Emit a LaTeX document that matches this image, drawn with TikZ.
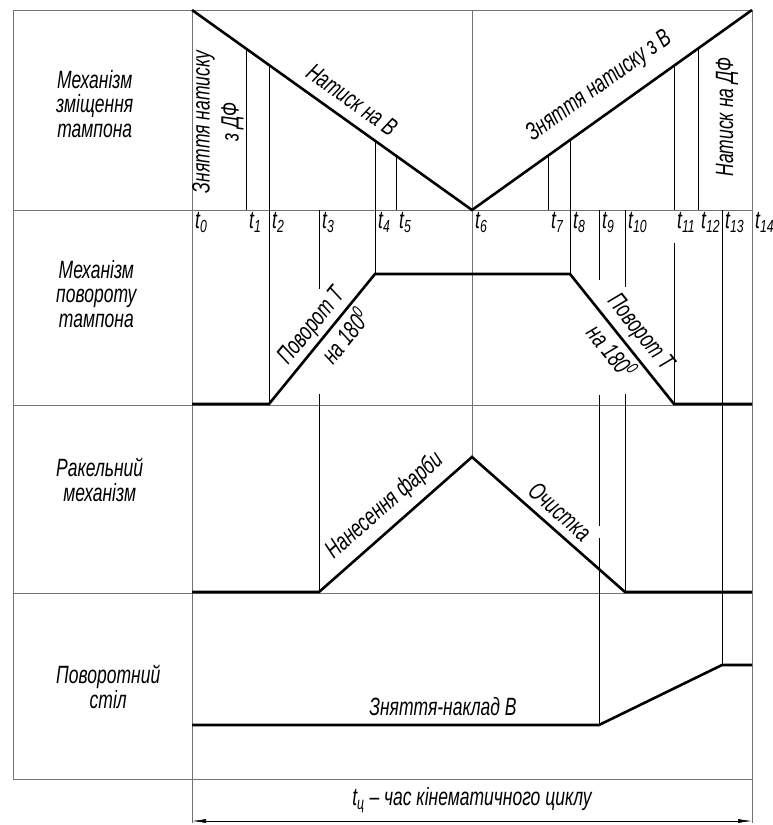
\documentclass[tikz,border=0pt]{standalone}
\usepackage{fontspec}
\newfontfamily\gost{Liberation Sans}[FakeStretch=0.7]
\usetikzlibrary{arrows.meta, positioning, calc}

\begin{document}
\begin{tikzpicture}[
  x=1pt, y=-1pt,
  every node/.style={font=\gost\itshape\fontsize{25}{24.5}\selectfont, inner sep=2pt},
  frame/.style={draw=black!55, line width=0.9pt},
  tl/.style={draw=black, line width=0.55pt},
  law/.style={draw=black, line width=2.6pt},
  tlab/.style={anchor=north west, inner sep=1pt, xshift=2pt},
  rowlab/.style={anchor=west, align=center, inner sep=0pt},
  vlab/.style={rotate=90, align=center, font=\gost\itshape\fontsize{25}{29}\selectfont},
  dim/.style={{Latex[length=14pt,width=4pt]}-{Latex[length=14pt,width=4pt]}, line width=0.55pt},
]
\useasboundingbox (0,0) rectangle (773,825);

% table frame
\draw[frame] (13,10) rectangle (752,779);
\foreach \y in {210,405,593} \draw[frame] (13,\y) -- (752,\y);
\draw[frame] (192,10) -- (192,823);
\draw[frame] (752,779) -- (752,823);
\draw[frame] (472,10) -- (472,457);

% row titles
\node[rowlab] (rpad)   at (56,104) {Механізм\\зміщення\\тампона};
\node[rowlab] (rturn)  at (56,294) {Механізм\\повороту\\тампона};
\node[rowlab] (rrakel) at (56,480) {Ракельний\\механізм};
\node[rowlab] (rtable) at (56,687) {Поворотний\\стіл};

% time marks
\foreach \i/\x in {0/192,1/246,2/269,3/319,4/375,5/396,6/472,7/548,8/570,9/599,10/625,11/674,12/698,13/722,14/752}{
  \coordinate (t\i) at (\x,210);
  \node[tlab] (lab\i) at (\x,211) {t\textsubscript{\i}};
}

% thin time lines
\draw[tl] (246,48.6) -- (t1);
\draw[tl] (269,65) -- (269,404);
\draw[tl] (t3) -- (319,289) (319,394) -- (319,592);
\draw[tl] (375,140.7) -- (375,274);
\draw[tl] (396,155.7) -- (t5);
\draw[tl] (548,155.7) -- (t7);
\draw[tl] (570,140) -- (570,274);
\draw[tl] (t9) -- (599,280) (599,395) -- (599,526) (599,538) -- (599,725);
\draw[tl] (t10) -- (625,287) (625,394) -- (625,592);
\draw[tl] (674,65.7) -- (t11) (674,243) -- (674,404);
\draw[tl] (698,48.6) -- (t12);
\draw[tl] (t13) -- (722,665);

% pad shift
\coordinate (a0) at (192,10);
\coordinate (a1) at (472,210);
\coordinate (a2) at (752,10);
\draw[law] (a0) -- node[sloped, above=8pt, pos=.53] (pressB) {Натиск на В}
  (a1) -- node[sloped, above=12pt, pos=.51] (releaseB) {Зняття натиску з В} (a2);
\node[vlab] (releaseDF) at (218,122) {Зняття натиску\\з ДФ};
\node[vlab] (pressDF) at (727,117) {Натиск на ДФ};

% pad turn
\coordinate (b0) at (192,404);
\coordinate (b1) at (269,404);
\coordinate (b2) at (375,274);
\coordinate (b3) at (570,274);
\coordinate (b4) at (674,404);
\coordinate (b5) at (752,404);
\draw[law] (b0) -- (b1)
  -- node[sloped, above=1pt, pos=.52] (turnA) {Поворот Т}
     node[sloped, below=1pt, pos=.6] (degA) {на 180\textsuperscript{0}} (b2)
  -- (b3)
  -- node[sloped, above=3pt, pos=.54] (turnB) {Поворот Т}
     node[sloped, below=1pt, pos=.52] (degB) {на 180\textsuperscript{0}} (b4)
  -- (b5);

% squeegee
\coordinate (c0) at (192,592);
\coordinate (c1) at (319,592);
\coordinate (c2) at (472,457);
\coordinate (c3) at (625,592);
\coordinate (c4) at (752,592);
\draw[law] (c0) -- (c1)
  -- node[sloped, above=6pt, pos=.52] (ink) {Нанесення фарби} (c2)
  -- node[sloped, above=5pt, pos=.5] (clean) {Очистка} (c3)
  -- (c4);

% rotary table
\coordinate (d0) at (192,725);
\coordinate (d1) at (599,725);
\coordinate (d2) at (722,665);
\coordinate (d3) at (752,665);
\draw[law] (d0) -- (d1) -- (d2) -- (d3);
\node (swapB) at (443,707) {Зняття-наклад В};

% cycle time
\coordinate (e0) at (192,821);
\coordinate (e1) at (752,821);
\draw[dim] (e0) -- (e1);
\node (cycle) at (472,800) {t\textsubscript{ц} – час кінематичного циклу};
\end{tikzpicture}
\end{document}
